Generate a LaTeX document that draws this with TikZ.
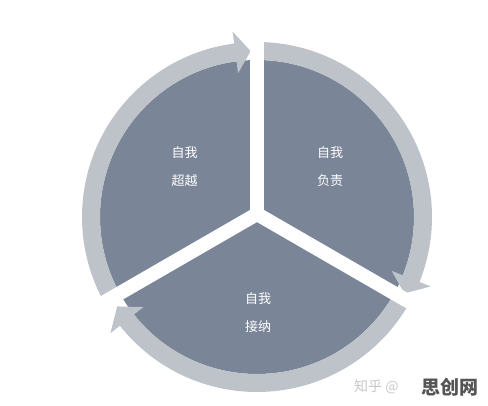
\documentclass[tikz,border=0pt]{standalone}
\usetikzlibrary{calc}
\usepackage{fontspec}
\newfontfamily\cjk{Noto Sans CJK SC}
\definecolor{ringgray}{RGB}{190,195,201}
\definecolor{slate}{RGB}{122,133,152}
\definecolor{wmlight}{RGB}{200,200,200}
\definecolor{wmdark}{RGB}{85,85,85}
\newcommand\ringarrowpath[3]{%
  (#1:175pt) arc[start angle=#1,end angle=#2,radius=175pt]
  -- (#2:187pt) -- (#3:166pt) -- (#2:145pt) -- (#2:157pt)
  arc[start angle=#2,end angle=#1,radius=157pt] -- cycle}
\begin{document}
\begin{tikzpicture}[x=1pt,y=1pt,
  lbl/.style={text=white,font=\cjk\fontsize{13}{28}\selectfont,align=center,inner sep=0pt},
  ringarrow/.style={fill=ringgray,draw=none},
  band/.style={draw=white,line width=14pt,line cap=butt}]
\useasboundingbox (0,0) rectangle (488,405);
\fill[white] (0,0) rectangle (488,405);
\coordinate (C) at (257,188);
\coordinate (J) at (257,191);
% dark disk
\fill[slate] (C) circle[radius=157pt];
% ring arrows (clockwise)
\begin{scope}[shift={(C)}]
  \fill[ringarrow] \ringarrowpath{210}{97.5}{92.2};
  \fill[ringarrow] \ringarrowpath{90}{-21.8}{-27.4};
  \fill[ringarrow] \ringarrowpath{-30}{-141.6}{-147.4};
\end{scope}
% white separating bands
\coordinate (Bt) at ($(J)+(90:210pt)$);
\coordinate (Br) at ($(J)+(-30:210pt)$);
\coordinate (Bl) at ($(J)+(210:210pt)$);
\draw[band] (J) -- (Bt);
\draw[band] (J) -- (Br);
\draw[band] (J) -- (Bl);
\fill[white] (J) circle[radius=7pt];
% labels
\node[lbl] (tl) at (184.5,238) {自我\\超越};
\node[lbl] (tr) at (330,238) {自我\\负责};
\node[lbl] (bt) at (258,92) {自我\\接纳};
% watermark
\node[text=wmlight,font=\cjk\fontsize{14}{16}\selectfont,anchor=west,inner sep=0pt] (wm1) at (354,18) {知乎 @};
\node[text=wmdark,font=\cjk\bfseries\fontsize{19}{21}\selectfont,anchor=west,inner sep=0pt] (wm2) at (421,18) {思创网};
\end{tikzpicture}
\end{document}
